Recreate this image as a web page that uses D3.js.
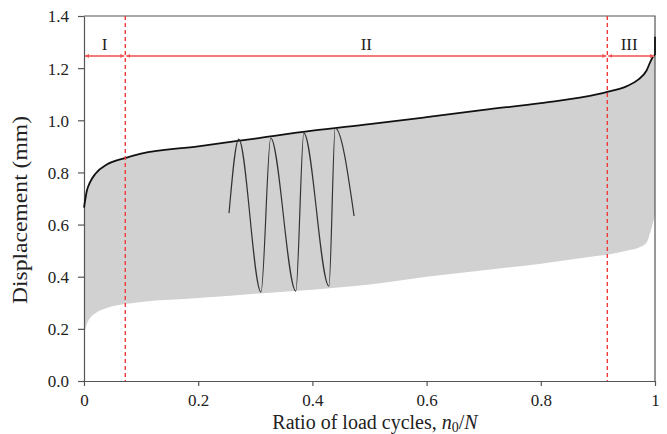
<!DOCTYPE html>
<html>
<head>
    <script src="https://d3js.org/d3.v7.min.js"></script>
    <title>Displacement vs ratio of load cycles</title>
    <style>
        body { margin: 0; background: #fff; }
        svg text { font-family: "Liberation Serif", "DejaVu Serif", "Times New Roman", serif; }
    </style>
</head>
<body>
    <svg id="plot" height="434" width="667"></svg>
    <script>
        // ---- data ----
        // upper envelope (peak displacement)
        const upperX = [0, 0.005, 0.01, 0.02, 0.04, 0.072, 0.1, 0.2, 0.3, 0.4, 0.5, 0.6, 0.7, 0.8, 0.9, 0.918, 0.95, 0.97, 0.985, 0.993, 0.998, 1.0];
        const upperY = [0.665, 0.73, 0.76, 0.795, 0.83, 0.855, 0.872, 0.90, 0.93, 0.96, 0.985, 1.012, 1.04, 1.066, 1.10, 1.11, 1.13, 1.155, 1.19, 1.23, 1.248, 1.25];
        // lower envelope (valley displacement)
        const lowerY = [0.18, 0.22, 0.24, 0.26, 0.28, 0.295, 0.303, 0.318, 0.335, 0.35, 0.37, 0.40, 0.425, 0.45, 0.48, 0.485, 0.50, 0.51, 0.53, 0.58, 0.62, 0.64];
        // vertical jump at failure
        const tailX = [1.0, 1.0];
        const tailY = [1.25, 1.32];

        // sketch of the loading wave (start, peaks, troughs, end)
        const waveX = [0.254, 0.271, 0.310, 0.327, 0.371, 0.385, 0.429, 0.440, 0.473];
        const waveY = [0.644, 0.928, 0.341, 0.932, 0.345, 0.951, 0.364, 0.970, 0.633];

        // stage boundaries
        const stageBounds = [0, 0.0723, 0.9165, 1.0];
        const stageNames = ["I", "II", "III"];
        const arrowLevel = 1.247;

        const xTicks = [0, 0.2, 0.4, 0.6, 0.8, 1];
        const xTickLabels = ["0", "0.2", "0.4", "0.6", "0.8", "1"];
        const yTicks = [0, 0.2, 0.4, 0.6, 0.8, 1.0, 1.2, 1.4];
        const yTickLabels = ["0.0", "0.2", "0.4", "0.6", "0.8", "1.0", "1.2", "1.4"];

        const serif = '"Liberation Serif", "DejaVu Serif", "Times New Roman", serif';

        // ---- chart ----
        const svg = d3.select('svg#plot');
        const margin = {top: 16, right: 12, bottom: 53, left: 84};
        const width = +svg.attr('width');
        const height = +svg.attr('height');
        const chartWidth = width - margin.left - margin.right;
        const chartHeight = height - margin.top - margin.bottom;

        const x = d3.scaleLinear().domain([0, 1]).range([0, chartWidth]);
        const y = d3.scaleLinear().domain([0, 1.4]).range([chartHeight, 0]);

        const chartArea = svg.append('g')
            .attr('transform', `translate(${margin.left},${margin.top})`);

        const env = upperX.map((d, i) => ({x: d, hi: upperY[i], lo: lowerY[i]}));

        // grey band
        chartArea.append('path')
            .datum(env)
            .attr('d', d3.area()
                .x(d => x(d.x))
                .y0(d => y(d.lo))
                .y1(d => y(d.hi))
                .curve(d3.curveMonotoneX))
            .style('fill', '#d2d1d2');

        // frame (top and right)
        chartArea.append('path')
            .attr('d', `M0,0H${chartWidth}V${chartHeight}`)
            .style('fill', 'none')
            .style('stroke', '#555')
            .style('stroke-width', 1.2);

        // axes
        const xAxis = d3.axisBottom(x)
            .tickValues(xTicks)
            .tickFormat((d, i) => xTickLabels[i])
            .tickSizeInner(5).tickSizeOuter(0).tickPadding(8);
        const yAxis = d3.axisLeft(y)
            .tickValues(yTicks)
            .tickFormat((d, i) => yTickLabels[i])
            .tickSizeInner(6).tickSizeOuter(0).tickPadding(9);

        const gx = chartArea.append('g')
            .attr('transform', `translate(0,${chartHeight})`)
            .call(xAxis);
        const gy = chartArea.append('g').call(yAxis);

        [gx, gy].forEach(g => {
            g.attr('font-family', serif);
            g.selectAll('path, line').style('stroke', '#555').style('stroke-width', 1.2);
            g.selectAll('text')
                .attr('font-family', serif)
                .style('font-size', '17px')
                .style('fill', '#222');
        });
        gy.selectAll('text').attr('dy', '0.35em');

        // upper curve
        chartArea.append('path')
            .datum(env)
            .attr('d', d3.line().x(d => x(d.x)).y(d => y(d.hi)).curve(d3.curveMonotoneX))
            .style('fill', 'none')
            .style('stroke', '#111')
            .style('stroke-width', 1.8);
        chartArea.append('path')
            .datum(tailX.map((d, i) => [d, tailY[i]]))
            .attr('d', d3.line().x(d => x(d[0])).y(d => y(d[1])))
            .style('fill', 'none')
            .style('stroke', '#111')
            .style('stroke-width', 1.8);

        // loading wave
        chartArea.append('path')
            .datum(waveX.map((d, i) => [d, waveY[i]]))
            .attr('d', d3.line().x(d => x(d[0])).y(d => y(d[1])).curve(d3.curveMonotoneX))
            .style('fill', 'none')
            .style('stroke', '#333')
            .style('stroke-width', 1.2);

        // stage dividers
        [stageBounds[1], stageBounds[2]].forEach(b => {
            chartArea.append('line')
                .attr('x1', x(b)).attr('x2', x(b))
                .attr('y1', y(1.4)).attr('y2', y(0))
                .style('stroke', '#f03a3a')
                .style('stroke-width', 1.4)
                .style('stroke-dasharray', '4,3');
        });

        // arrows
        const defs = svg.append('defs');
        defs.append('marker')
            .attr('id', 'arr')
            .attr('viewBox', '0 0 10 10')
            .attr('refX', 10).attr('refY', 5)
            .attr('markerWidth', 4).attr('markerHeight', 4)
            .attr('markerUnits', 'userSpaceOnUse')
            .attr('orient', 'auto-start-reverse')
            .append('path')
            .attr('d', 'M0,0L10,5L0,10Z')
            .style('fill', '#f25555');

        stageNames.forEach((name, i) => {
            const x0 = x(stageBounds[i]), x1 = x(stageBounds[i + 1]);
            chartArea.append('line')
                .attr('x1', x0 + 1).attr('x2', x1 - 1)
                .attr('y1', y(arrowLevel)).attr('y2', y(arrowLevel))
                .style('stroke', '#f77a7a')
                .style('stroke-width', 2)
                .attr('marker-start', 'url(#arr)')
                .attr('marker-end', 'url(#arr)');
            chartArea.append('text')
                .attr('x', (x0 + x1) / 2 + (i === 2 ? -2 : 0))
                .attr('y', y(arrowLevel) - 6)
                .attr('text-anchor', 'middle')
                .attr('font-family', serif)
                .style('font-size', '17px')
                .style('fill', '#222')
                .text(name);
        });

        // axis titles
        const xt = svg.append('text')
            .attr('x', 375)
            .attr('y', 429)
            .attr('text-anchor', 'middle')
            .attr('font-family', serif)
            .style('font-size', '20px')
            .style('fill', '#222');
        xt.append('tspan').text('Ratio of load cycles, ');
        xt.append('tspan').style('font-style', 'italic').text('n');
        xt.append('tspan').attr('dy', 3).style('font-size', '14px').text('0');
        xt.append('tspan').attr('dy', -3).text('/');
        xt.append('tspan').style('font-style', 'italic').text('N');

        svg.append('text')
            .attr('transform', `translate(27,210) rotate(-90)`)
            .attr('text-anchor', 'middle')
            .attr('font-family', serif)
            .attr('textLength', 188)
            .attr('lengthAdjust', 'spacingAndGlyphs')
            .style('font-size', '21px')
            .style('fill', '#222')
            .text('Displacement (mm)');
    </script>
</body>
</html>
